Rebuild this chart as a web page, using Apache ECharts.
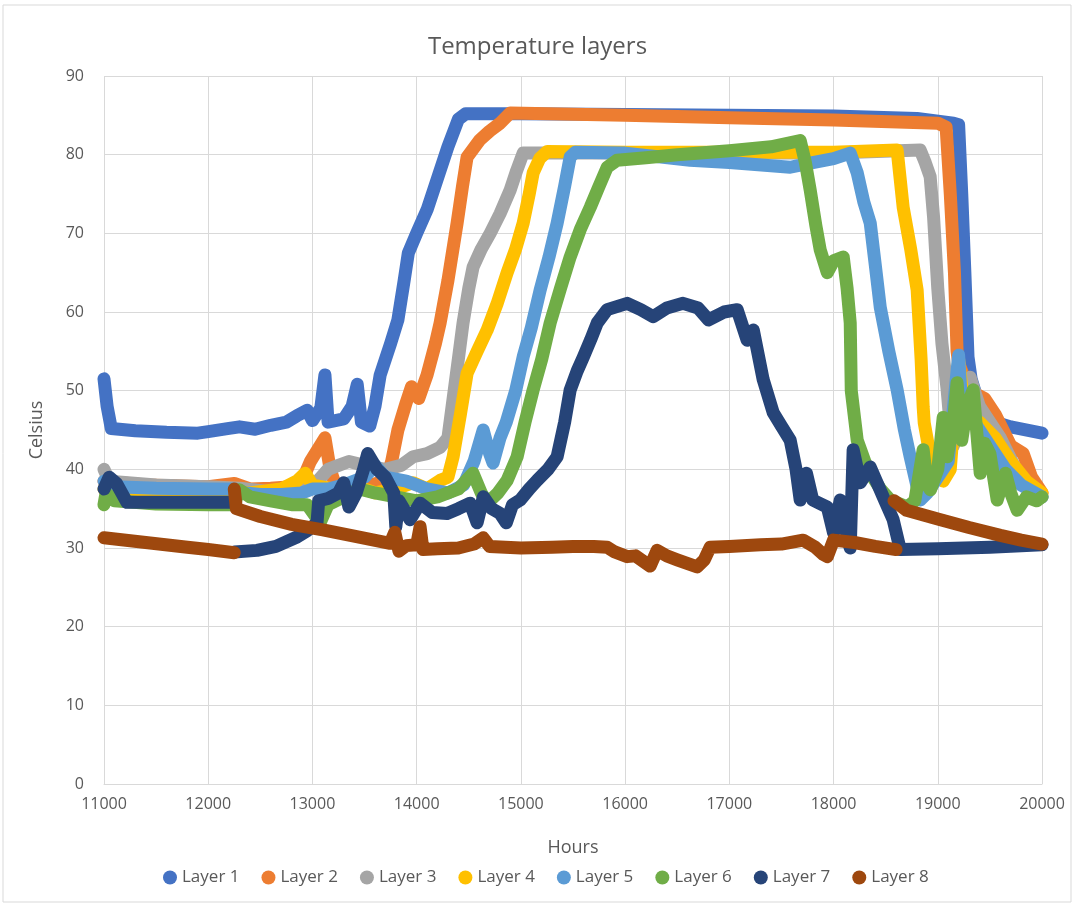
<!DOCTYPE html>
<html>
<head>
<meta charset="utf-8">
<title>Temperature layers</title>
<script src="https://cdn.jsdelivr.net/npm/echarts@6/dist/echarts.min.js"></script>
<style>
	html,body{margin:0;padding:0;background:#fff;}
	#chart{width:1075px;height:906px;}
</style>
</head>
<body>
<div id="chart"></div>
<script>
// [hours, celsius]; null breaks the line
var layer1 = [[11000,51.5],[11030,48],[11070,45.2],[11300,44.9],[11600,44.7],[11900,44.6],[12000,44.8],[12200,45.2],[12300,45.4],[12450,45.1],[12600,45.6],[12750,46],[12850,46.8],[12950,47.5],[13000,46.2],[13080,47.8],[13120,52],[13150,46],[13300,46.4],[13380,48],[13430,50.8],[13470,46],[13550,45.5],[13600,48],[13650,52],[13750,56],[13820,59],[13880,64],[13920,67.5],[14000,70],[14100,73],[14200,77],[14300,81],[14400,84.5],[14470,85.2],[15000,85.2],[16000,85.1],[17000,85],[18000,84.9],[18800,84.6],[19150,84],[19200,83.8],[19230,75],[19260,65],[19290,54.3],[19320,51.5],[19400,48],[19550,46],[19700,45.4],[20000,44.6]];
var layer2 = [[11000,38.5],[11400,38],[12000,37.8],[12250,38.2],[12400,37.5],[12600,37.6],[12800,37.8],[12900,38.5],[12980,41],[13050,42.5],[13120,44],[13170,40],[13220,38],[13500,37.8],[13700,38.5],[13760,41],[13820,45],[13900,48.5],[13950,50.5],[14020,49],[14100,52],[14180,56],[14225,58.6],[14300,64],[14388,71.3],[14440,76],[14484,79.7],[14608,81.9],[14700,83],[14800,84],[14897,85.3],[16000,85],[17000,84.7],[18000,84.4],[19000,84],[19080,83.5],[19120,75],[19160,65],[19185,55],[19200,53.5],[19300,50],[19450,49],[19550,47],[19700,43],[19820,42],[19900,39],[20000,37]];
var layer3 = [[11000,40],[11050,38.5],[11500,38],[12000,37.8],[12300,37.6],[12700,37],[12900,37.5],[13050,38.5],[13150,40],[13250,40.5],[13350,41],[13500,40.5],[13700,40],[13850,40.5],[13965,41.6],[14100,42],[14225,42.8],[14300,44],[14340,48],[14400,54],[14445,58.6],[14500,63],[14541,65.7],[14620,68],[14705,70],[14800,72.5],[14897,75.5],[14960,78],[15022,80.2],[16000,80.2],[17000,80.2],[18000,80.2],[18831,80.6],[18880,79],[18927,77.2],[18960,72],[19000,63],[19040,56],[19090,50.1],[19110,47],[19150,43],[19200,45],[19260,49],[19310,51.7],[19400,48],[19500,46],[19600,44],[19750,40],[19900,37.5],[20000,36.5]];
var layer4 = [[11000,37.5],[11500,37.3],[12000,37.2],[12400,37],[12700,37.5],[12850,38.5],[12930,39.5],[13000,38],[13200,37.5],[13400,38],[13600,37],[13800,37.5],[13965,38.3],[14100,37.5],[14225,38.6],[14300,39],[14350,41.6],[14420,47],[14484,52.2],[14580,55],[14676,57.7],[14770,61],[14868,65],[14950,68],[15022,71.3],[15080,75],[15118,77.7],[15180,79.5],[15252,80.4],[16000,80.3],[17000,80.3],[18000,80.3],[18610,80.6],[18668,73.3],[18740,68],[18802,62.8],[18840,54],[18860,47.9],[18870,45.9],[18950,40],[19052,38.5],[19120,40],[19200,54],[19260,47],[19400,46],[19550,44],[19700,41],[19850,38.5],[20000,37]];
var layer5 = [[11000,38.5],[11100,37.8],[11500,37.6],[12000,37.5],[12250,37.5],[12350,37],[12500,36.8],[12700,36.8],[12900,37],[13000,37.5],[13150,37.5],[13300,38],[13500,39],[13600,40.5],[13700,39],[13900,38.5],[14100,37.5],[14300,37],[14450,38],[14550,41],[14638,45],[14700,42],[14733,40.8],[14800,44],[14860,46],[14950,50],[15022,54.3],[15100,58],[15185,62.8],[15270,67],[15348,71.3],[15420,76],[15473,79.7],[15520,80.3],[16000,80.2],[16624,79.3],[17000,79],[17584,78.4],[17800,79],[18000,79.5],[18160,80.2],[18227,77.7],[18290,74],[18352,71.3],[18400,66],[18448,60.6],[18530,55],[18610,50.1],[18680,45],[18735,41.6],[18831,36.1],[18900,37],[19000,39],[19100,41],[19200,54.5],[19230,48],[19300,47],[19400,45],[19500,43],[19650,40],[19800,38],[20000,36.5]];
var layer6 = [[11000,35.5],[11020,37],[11100,36],[11500,35.6],[12000,35.5],[12250,35.5],[12300,37.4],[12400,36.5],[12600,36],[12800,35.5],[12950,35.5],[13073,33.2],[13150,35.5],[13300,36.5],[13450,37.5],[13600,37],[13800,36.5],[14000,36],[14200,36.5],[14400,37.5],[14541,39.5],[14620,37],[14676,35.7],[14780,37],[14868,38.6],[14964,41.6],[15040,46],[15118,50.1],[15200,54],[15281,58.6],[15380,63],[15473,67],[15570,70.5],[15665,73.3],[15750,76],[15828,78.4],[15924,79.3],[16200,79.6],[16500,80],[17000,80.5],[17400,81],[17680,81.8],[17730,79],[17776,75.5],[17830,71],[17872,67.9],[17940,65],[18000,66.5],[18093,67],[18130,63],[18160,58.6],[18170,50],[18227,43.7],[18300,41],[18352,39.5],[18450,37.5],[18544,36.1],[18707,35.2],[18780,36],[18860,42.5],[18900,38],[18930,37.4],[19000,40],[19052,46.6],[19090,41.6],[19150,46],[19185,51],[19230,43.7],[19280,48],[19340,50.1],[19407,39.5],[19450,43.3],[19500,42],[19570,36.1],[19650,39.5],[19700,37],[19762,34.8],[19850,36.5],[19950,36],[20000,36.5]];
var layer7 = [[11000,37.5],[11050,39],[11120,38.2],[11220,35.8],[11500,35.8],[12000,35.8],[12250,35.8],null,[12250,29.5],[12468,29.7],[12650,30.2],[12852,31.4],[12950,32.2],[13044,33.2],[13060,36],[13150,36.3],[13250,37],[13300,38.3],[13350,35.2],[13420,37],[13490,40],[13530,42],[13620,40],[13700,39],[13780,37],[13800,32.7],[13830,36],[13937,33.6],[14033,35.7],[14150,34.5],[14292,34.4],[14400,35],[14513,35.7],[14580,33.2],[14640,36.5],[14720,35],[14800,34.4],[14860,33.2],[14920,35.5],[14993,36.1],[15080,37.5],[15156,38.6],[15260,40],[15348,41.6],[15420,46],[15473,50.1],[15540,52.5],[15600,54.3],[15670,56.5],[15732,58.6],[15828,60.3],[16020,61.1],[16150,60.3],[16268,59.4],[16400,60.5],[16556,61.1],[16700,60.5],[16800,59],[16950,60],[17075,60.3],[17171,56.4],[17230,57.7],[17325,51.4],[17421,47.2],[17500,45.5],[17584,43.7],[17640,40],[17680,36.1],[17740,39.5],[17800,36.1],[17940,35.2],[18000,31.9],[18064,36.1],[18130,31.5],[18160,30],[18188,42.5],[18256,38.3],[18352,40.3],[18476,36.5],[18572,33.6],[18640,29.8],[19000,29.9],[19500,30.1],[20000,30.4]];
var layer8 = [[11000,31.3],[11400,30.7],[11800,30.1],[12000,29.8],[12250,29.4],null,[12250,37.5],[12270,35],[12500,34],[12800,33],[13100,32.3],[13400,31.5],[13745,30.6],[13790,32],[13830,29.6],[13900,30.3],[14000,30.4],[14033,32.7],[14060,29.8],[14200,29.9],[14400,30],[14550,30.5],[14638,31.3],[14700,30.2],[15000,30],[15300,30.1],[15500,30.2],[15700,30.2],[15828,30.1],[15900,29.5],[16020,28.9],[16100,29],[16240,27.7],[16307,29.7],[16400,29],[16500,28.5],[16691,27.6],[16760,28.5],[16816,30.1],[17000,30.2],[17300,30.4],[17500,30.5],[17708,31],[17823,30.1],[17900,29.2],[17940,28.9],[18000,31],[18200,30.7],[18400,30.2],[18600,29.8],null,[18580,36],[18700,34.8],[19000,33.7],[19300,32.6],[19600,31.6],[19800,31],[20000,30.5]];

var layerNames = ['Layer 1','Layer 2','Layer 3','Layer 4','Layer 5','Layer 6','Layer 7','Layer 8'];
var layerData = [layer1,layer2,layer3,layer4,layer5,layer6,layer7,layer8];
var layerColors = ['#4472C4','#ED7D31','#A5A5A5','#FFC000','#5B9BD5','#70AD47','#264478','#9E480E'];

var textColor = '#595959';
var fontFam = '"Open Sans", "Noto Sans", sans-serif';

function temperatureLayersEcharts(idName){
	var chart = echarts.init(document.getElementById(idName));

	var series = layerData.map(function(d,i){
		return {
			name: layerNames[i],
			type: 'line',
			showSymbol: false,
			symbol: 'circle',
			connectNulls: false,
			lineStyle: {width: 13, cap: 'round', join: 'round', color: layerColors[i]},
			itemStyle: {color: layerColors[i]},
			data: d.map(function(p){ return p === null ? ['-','-'] : p; })
		};
	});

	var option = {
		animation: false,
		backgroundColor: '#fff',
		textStyle: {fontFamily: fontFam},
		title: {
			text: 'Temperature layers',
			left: 'center',
			top: 30,
			textStyle: {fontSize: 24, fontWeight: 'normal', color: textColor, fontFamily: fontFam}
		},
		graphic: [{
			type: 'rect',
			shape: {x: 3, y: 5, width: 1068, height: 897},
			style: {fill: 'none', stroke: '#D9D9D9', lineWidth: 1},
			silent: true
		}],
		legend: {
			bottom: 15,
			left: 158,
			icon: 'circle',
			itemWidth: 14,
			itemHeight: 14,
			itemGap: 22,
			textStyle: {fontSize: 17, color: textColor, fontFamily: fontFam},
			data: layerNames
		},
		grid: {left: 104, right: 33, top: 76, bottom: 122},
		xAxis: {
			type: 'value',
			min: 11000,
			max: 20000,
			interval: 1000,
			name: 'Hours',
			nameLocation: 'middle',
			nameGap: 55,
			nameTextStyle: {fontSize: 18, color: textColor},
			axisLine: {show: true, lineStyle: {color: '#D9D9D9'}},
			axisTick: {show: false},
			axisLabel: {fontSize: 16, color: textColor, margin: 12, formatter: function(v){ return String(v); }},
			splitLine: {show: true, lineStyle: {color: '#D9D9D9', width: 1}}
		},
		yAxis: {
			type: 'value',
			min: 0,
			max: 90,
			interval: 10,
			name: 'Celsius',
			nameLocation: 'middle',
			nameRotate: 90,
			nameGap: 58,
			nameTextStyle: {fontSize: 18, color: textColor},
			axisLine: {show: false},
			axisTick: {show: false},
			axisLabel: {fontSize: 16, color: textColor, margin: 20},
			splitLine: {show: true, lineStyle: {color: '#D9D9D9', width: 1}}
		},
		series: series
	};

	chart.setOption(option);
}

temperatureLayersEcharts('chart');
</script>
</body>
</html>
